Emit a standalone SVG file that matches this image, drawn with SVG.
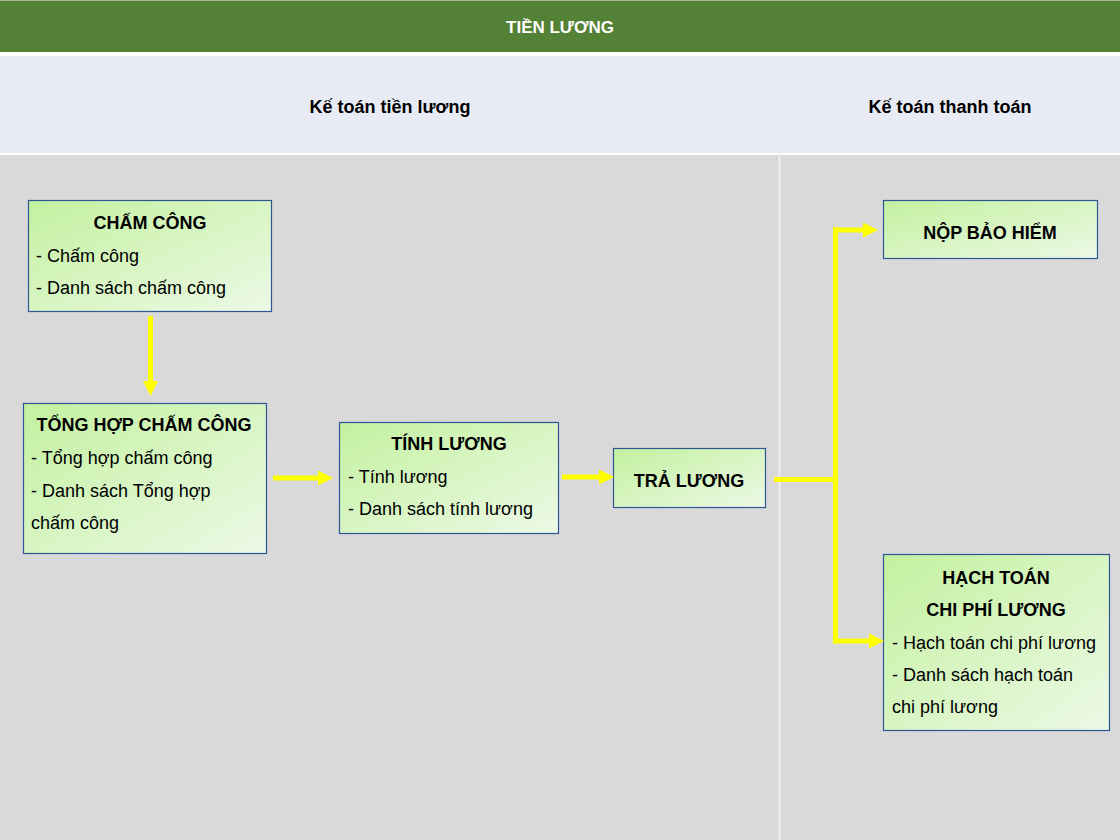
<svg xmlns="http://www.w3.org/2000/svg" width="1120" height="840" viewBox="0 0 1120 840">
<style>
  text { font-family: "Liberation Sans", Arial, sans-serif; fill: #000; }
  .ttl { font-weight: bold; font-size: 18px; text-anchor: middle; }
  .ln { font-size: 18px; }
  .hdr { font-weight: bold; font-size: 18px; text-anchor: middle; }
  .box { fill: url(#g); stroke: #2F5597; stroke-width: 1.2; }
  .con { fill: none; stroke: #FFFF00; stroke-width: 5; }
</style>
<defs>
  <linearGradient id="g" x1="0" y1="0" x2="1" y2="1">
    <stop offset="0" stop-color="#C3F19F"/>
    <stop offset="1" stop-color="#ECF9E6"/>
  </linearGradient>
  <marker id="ah" markerUnits="userSpaceOnUse" markerWidth="16" markerHeight="16" refX="0" refY="8" orient="auto">
    <path d="M0,0.5 L15,8 L0,15.5 z" fill="#FFFF00"/>
  </marker>
</defs>

<g id="background">
  <rect x="0" y="0" width="1120" height="840" fill="#FFFFFF"/>
  <rect x="0" y="1" width="1120" height="51" fill="#538135"/>
  <rect x="0" y="0" width="1120" height="1" fill="#A9B99A"/>
  <rect x="0" y="56" width="1120" height="97" fill="#E8EBF4"/>
  <rect x="0" y="155" width="1120" height="685" fill="#D9D9D9"/>
  <rect x="778.5" y="56" width="2" height="784" fill="#EEEEF2"/>
  <text x="560" y="33" class="hdr" style="fill:#FFFFFF;font-size:17px">TIỀN LƯƠNG</text>
  <text x="390" y="113" class="hdr">Kế toán tiền lương</text>
  <text x="950" y="113" class="hdr">Kế toán thanh toán</text>
</g>

<g id="cham-cong">
  <rect class="box" x="28.5" y="200.5" width="243" height="111"/>
  <text x="150" y="229" class="ttl">CHẤM CÔNG</text>
  <text x="36" y="262" class="ln">- Chấm công</text>
  <text x="36" y="294" class="ln">- Danh sách chấm công</text>
</g>

<g id="tong-hop-cham-cong">
  <rect class="box" x="23.5" y="403.5" width="243" height="150"/>
  <text x="144" y="431" class="ttl">TỔNG HỢP CHẤM CÔNG</text>
  <text x="31" y="464" class="ln">- Tổng hợp chấm công</text>
  <text x="31" y="497" class="ln">- Danh sách Tổng hợp</text>
  <text x="31" y="529" class="ln">chấm công</text>
</g>

<g id="tinh-luong">
  <rect class="box" x="339.5" y="422.5" width="219" height="111"/>
  <text x="449" y="450" class="ttl">TÍNH LƯƠNG</text>
  <text x="348" y="483" class="ln">- Tính lương</text>
  <text x="348" y="515" class="ln">- Danh sách tính lương</text>
</g>

<g id="tra-luong">
  <rect class="box" x="613.5" y="448.5" width="152" height="59"/>
  <text x="689" y="487" class="ttl">TRẢ LƯƠNG</text>
</g>

<g id="nop-bao-hiem">
  <rect class="box" x="883.5" y="200.5" width="214" height="58"/>
  <text x="990" y="239" class="ttl">NỘP BẢO HIỂM</text>
</g>

<g id="hach-toan">
  <rect class="box" x="883.5" y="554.5" width="226" height="176"/>
  <text x="996" y="584" class="ttl">HẠCH TOÁN</text>
  <text x="996" y="616" class="ttl">CHI PHÍ LƯƠNG</text>
  <text x="892" y="649" class="ln">- Hạch toán chi phí lương</text>
  <text x="892" y="681" class="ln">- Danh sách hạch toán</text>
  <text x="892" y="713" class="ln">chi phí lương</text>
</g>

<g id="connectors">
  <path class="con" d="M150.5,316 L150.5,381" marker-end="url(#ah)"/>
  <path class="con" d="M273,478 L318,478" marker-end="url(#ah)"/>
  <path class="con" d="M562,477 L599,477" marker-end="url(#ah)"/>
  <path class="con" d="M774,479.5 L835.5,479.5"/>
  <path class="con" d="M835.5,227.5 L835.5,643.5"/>
  <path class="con" d="M833,230 L863,230" marker-end="url(#ah)"/>
  <path class="con" d="M833,641 L869,641" marker-end="url(#ah)"/>
</g>
</svg>
